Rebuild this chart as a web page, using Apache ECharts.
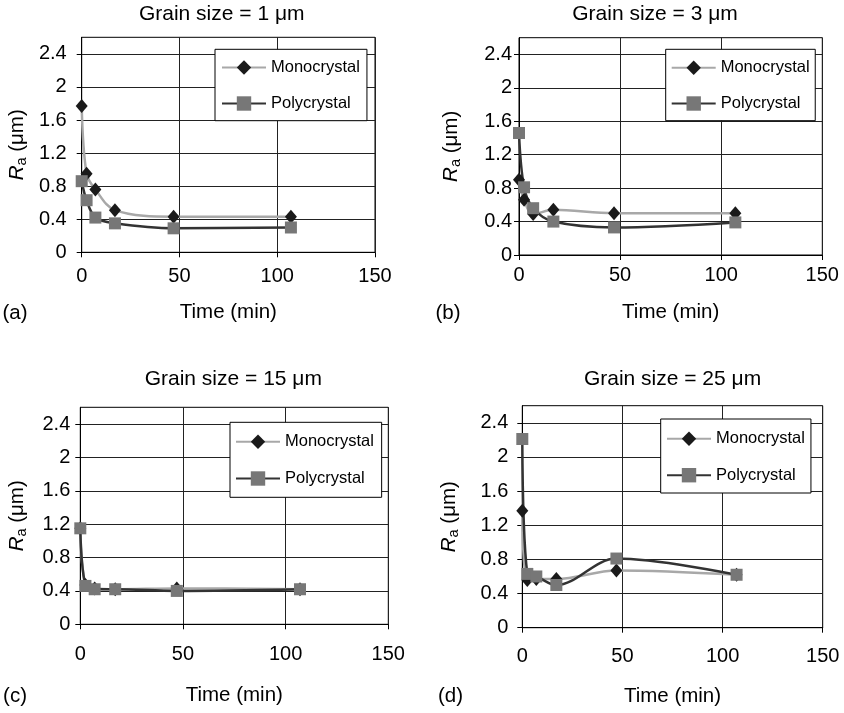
<!DOCTYPE html>
<html>
<head>
<meta charset="utf-8">
<script src="https://cdn.jsdelivr.net/npm/echarts@6/dist/echarts.min.js"></script>
<style>
html,body{margin:0;padding:0;background:#fff;}
#c{width:844px;height:713px;}
</style>
</head>
<body>
<div id="c"></div>
<script>
// ---- data ----
const times = [0, 2.5, 7, 17, 47, 107];
const monoA = [1.77, 0.95, 0.76, 0.51, 0.43, 0.43];
const polyA = [0.86, 0.63, 0.42, 0.35, 0.29, 0.30];
const monoB = [0.90, 0.66, 0.49, 0.54, 0.50, 0.50];
const polyB = [1.46, 0.81, 0.56, 0.40, 0.33, 0.39];
const monoC = [1.15, 0.47, 0.43, 0.42, 0.43, 0.42];
const polyC = [1.15, 0.46, 0.42, 0.42, 0.40, 0.42];
const monoD = [1.37, 0.56, 0.57, 0.57, 0.67, 0.62];
const polyD = [2.21, 0.63, 0.60, 0.50, 0.81, 0.62];
const panelTitles = ['Grain size = 1 \u03bcm', 'Grain size = 3 \u03bcm', 'Grain size = 15 \u03bcm', 'Grain size = 25 \u03bcm'];
const panelLabels = ['(a)', '(b)', '(c)', '(d)'];
const seriesNames = ['Monocrystal', 'Polycrystal'];
const xTicks = [0, 50, 100, 150];
const yTicks = [0, 0.4, 0.8, 1.2, 1.6, 2, 2.4];
const yMax = 2.6;
const xName = 'Time (min)';

// ---- layout ----
const FONT = 'Liberation Sans';
const grids = [
  {left: 81.7, top: 37.3, width: 293.3, height: 215},
  {left: 519, top: 37.7, width: 303.3, height: 217.3},
  {left: 80.3, top: 407.3, width: 308, height: 217},
  {left: 522.3, top: 405.7, width: 300.4, height: 222}
];
const xLabelMargin = [14.5, 10.5, 20.5, 18.5];
const yLabelMargin = [15, 7, 10, 14];
const xNameGap = [50, 47, 61, 58];
const yNameGap = [52, 56, 51, 61];
const titlePos = [[221.7, 14], [655, 14], [233.3, 379], [672.5, 379]];
const labelPos = [[15, 313], [448, 313], [15, 696.7], [450.5, 696.7]];
const legendPos = [
  {left: 215, top: 49.3, padding: [9.7, 7, 8.7, 6], itemGap: 19},
  {left: 665.7, top: 49.3, padding: [10, 5.6, 8.7, 5], itemGap: 18.7},
  {left: 230, top: 422.3, padding: [11, 7.7, 10.3, 5], itemGap: 19.7},
  {left: 660.7, top: 419, padding: [11.3, 6, 9.3, 5.3], itemGap: 19.4}
];
const monoSets = [monoA, monoB, monoC, monoD];
const polySets = [polyA, polyB, polyC, polyD];

const option = {
  animation: false,
  backgroundColor: '#fff',
  textStyle: {fontFamily: FONT, color: '#000'},
  grid: grids.map(g => Object.assign({show: true, borderColor: '#000', borderWidth: 1, backgroundColor: 'transparent', containLabel: false}, g)),
  xAxis: grids.map((g, i) => ({
    type: 'value', gridIndex: i, min: xTicks[0], max: xTicks[xTicks.length - 1], interval: xTicks[1] - xTicks[0],
    name: xName, nameLocation: 'middle', nameGap: xNameGap[i],
    nameTextStyle: {fontFamily: FONT, fontSize: 20.5, color: '#000'},
    axisLine: {show: true, onZero: false, lineStyle: {color: '#000', width: 1}},
    axisTick: {show: true, inside: false, length: 5, lineStyle: {color: '#000'}},
    axisLabel: {fontFamily: FONT, fontSize: 20, color: '#000', margin: xLabelMargin[i]},
    splitLine: {show: true, lineStyle: {color: '#222', width: 1}}
  })),
  yAxis: grids.map((g, i) => ({
    type: 'value', gridIndex: i, min: 0, max: yMax, interval: 0.4,
    name: '{i|R}{s|a}{n| (\u03bcm)}', nameLocation: 'middle', nameRotate: 90, nameGap: yNameGap[i],
    nameTextStyle: {
      fontFamily: FONT, fontSize: 20.5, color: '#000',
      rich: {
        i: {fontFamily: FONT, fontSize: 20.5, fontStyle: 'italic', lineHeight: 24, color: '#000'},
        s: {fontFamily: FONT, fontSize: 14.5, lineHeight: 14, verticalAlign: 'bottom', color: '#000'},
        n: {fontFamily: FONT, fontSize: 20.5, lineHeight: 24, color: '#000'}
      }
    },
    axisLine: {show: true, onZero: false, lineStyle: {color: '#000', width: 1}},
    axisTick: {show: true, inside: false, length: 5, customValues: yTicks, lineStyle: {color: '#000'}},
    axisLabel: {fontFamily: FONT, fontSize: 20, color: '#000', margin: yLabelMargin[i], customValues: yTicks},
    splitLine: {show: true, lineStyle: {color: '#222', width: 1}}
  })),
  legend: legendPos.map(l => ({
    orient: 'vertical', left: l.left, top: l.top, padding: l.padding, itemGap: l.itemGap,
    itemWidth: 44, itemHeight: 18,
    backgroundColor: '#fff', borderColor: '#000', borderWidth: 1, borderRadius: 0,
    textStyle: {fontFamily: FONT, fontSize: 16.5, color: '#000'},
    data: seriesNames
  })),
  series: [],
  graphic: []
};

for (let i = 0; i < 4; i++) {
  option.series.push({
    name: seriesNames[0], type: 'line', xAxisIndex: i, yAxisIndex: i,
    data: times.map((t, j) => [t, monoSets[i][j]]),
    smooth: 0.35, symbol: 'diamond', symbolSize: [12, 14],
    itemStyle: {color: '#1a1a1a'},
    lineStyle: {color: '#a8a8a8', width: 2.5}
  });
  option.series.push({
    name: seriesNames[1], type: 'line', xAxisIndex: i, yAxisIndex: i,
    data: times.map((t, j) => [t, polySets[i][j]]),
    smooth: 0.35, symbol: 'rect', symbolSize: 12,
    itemStyle: {color: '#777777'},
    lineStyle: {color: '#333333', width: 2.5}
  });
  option.graphic.push({
    type: 'text', x: titlePos[i][0], y: titlePos[i][1],
    style: {text: panelTitles[i], fontFamily: FONT, fontSize: 21, fill: '#000', align: 'center', verticalAlign: 'middle'}
  });
  option.graphic.push({
    type: 'text', x: labelPos[i][0], y: labelPos[i][1],
    style: {text: panelLabels[i], fontFamily: FONT, fontSize: 20.5, fill: '#000', align: 'center', verticalAlign: 'middle'}
  });
}

const chart = echarts.init(document.getElementById('c'), null, {renderer: 'canvas'});
chart.setOption(option);
</script>
</body>
</html>
